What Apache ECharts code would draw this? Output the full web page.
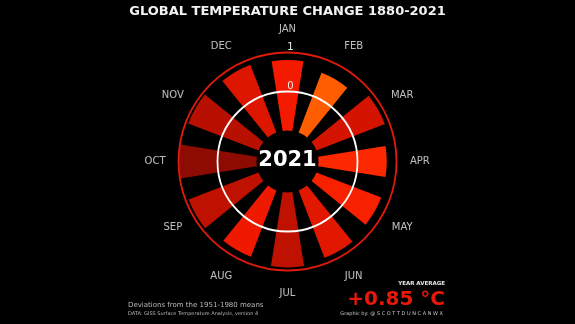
<!DOCTYPE html>
<html><head><meta charset="utf-8">
<script src="https://cdn.jsdelivr.net/npm/echarts@6/dist/echarts.min.js"></script>
<style>html,body{margin:0;padding:0;background:#000;}#c{width:575px;height:324px;}</style>
</head><body><div id="c"></div>
<script>
var months = ['JAN','FEB','MAR','APR','MAY','JUN','JUL','AUG','SEP','OCT','NOV','DEC'];
var anomalies2021 = [0.81,0.64,0.88,0.75,0.78,0.85,0.92,0.82,0.92,0.99,0.93,0.86];
var radialTicks = [0, 1];
var radialMin = -1;   // bars start at -1 °C
var radialMax = 1;
var yearLabel = '2021';
var yearAverage = 0.85;

var span = radialMax - radialMin;
var offsetData = anomalies2021.map(function(v){ return v - radialMin; });
var labelOffset = 0.6; // month labels sit just outside the outer ring
var monthLabelData = months.map(function(m, i){ return [span + labelOffset, i]; });
var font = 'DejaVu Sans';
var center = [287.5, 161.5];
var radius = [31, 109];

var chart = echarts.init(document.getElementById('c'));
chart.setOption({
  backgroundColor: '#000',
  animation: false,
  polar: [
    {center: center, radius: radius},
    {center: center, radius: radius}
  ],
  angleAxis: [
    {polarIndex: 0, type: 'category', data: months, startAngle: 105, clockwise: true,
     boundaryGap: true,
     axisLine: {show: false}, axisTick: {show: false}, splitLine: {show: false},
     axisLabel: {show: false}},
    {polarIndex: 1, type: 'value', min: 0, max: 360, startAngle: 90, show: false}
  ],
  radiusAxis: [
    {polarIndex: 0, type: 'value', min: 0, max: span, show: false},
    {polarIndex: 1, type: 'value', min: 0, max: span, interval: 1, z: 10,
     axisLine: {show: false}, axisTick: {show: false},
     splitLine: {show: true, lineStyle: {color: ['rgba(0,0,0,0)', '#ffffff', '#e01a0a'], width: 1.8}},
     axisLabel: {show: true, color: '#ececec', fontFamily: font, fontSize: 10, margin: -3,
       align: 'center', verticalAlign: 'bottom',
       formatter: function(u){ var v = Math.round(u + radialMin); return radialTicks.indexOf(v) >= 0 ? String(v) : ''; }}}
  ],
  visualMap: {show: false, type: 'continuous', seriesIndex: 0, dimension: 0,
    min: 0.62 - radialMin, max: 1.0 - radialMin,
    inRange: {color: ['#ff6a00', '#ff3000', '#f41a00', '#c81200', '#860a00']}},
  series: [{
    type: 'bar', coordinateSystem: 'polar', polarIndex: 0,
    data: offsetData, barWidth: '60%', z: 2
  }, {
    type: 'scatter', coordinateSystem: 'polar', polarIndex: 0, clip: false,
    data: monthLabelData, symbolSize: 1, itemStyle: {color: 'rgba(0,0,0,0)'},
    silent: true,
    label: {show: true, position: 'inside', color: '#ececec', fontFamily: font, fontSize: 10,
      textBorderWidth: 0, textBorderColor: 'transparent',
      formatter: function(p){ return months[p.dataIndex]; }}
  }],
  graphic: [
    {type: 'text', x: 287.5, y: 12, style: {text: 'GLOBAL TEMPERATURE CHANGE 1880-2021', fill: '#f2f2f2',
      font: 'bold 13px "DejaVu Sans"', align: 'center', verticalAlign: 'middle'}},
    {type: 'text', x: 287.5, y: 161, z: 20, style: {text: yearLabel, fill: '#ffffff',
      font: 'bold 21px "DejaVu Sans"', align: 'center', verticalAlign: 'middle'}},
    {type: 'text', x: 128, y: 305, style: {text: 'Deviations from the 1951-1980 means', fill: '#b8b8b8',
      font: '7px "DejaVu Sans"', align: 'left', verticalAlign: 'middle'}},
    {type: 'text', x: 128, y: 314, style: {text: 'DATA: GISS Surface Temperature Analysis, version 4', fill: '#b8b8b8',
      font: '5px "DejaVu Sans"', align: 'left', verticalAlign: 'middle'}},
    {type: 'text', x: 445, y: 284, style: {text: 'YEAR AVERAGE', fill: '#e6e6e6',
      font: 'bold 5.5px "DejaVu Sans"', align: 'right', verticalAlign: 'middle'}},
    {type: 'text', x: 445, y: 300, style: {text: '+' + yearAverage.toFixed(2) + ' °C', fill: '#e8180a',
      font: 'bold 20px "DejaVu Sans"', align: 'right', verticalAlign: 'middle'}},
    {type: 'text', x: 443, y: 314, style: {text: 'Graphic by: @ S C O T T D U N C A N W X', fill: '#c8c8c8',
      font: '5px "DejaVu Sans"', align: 'right', verticalAlign: 'middle'}}
  ]
});
</script></body></html>
